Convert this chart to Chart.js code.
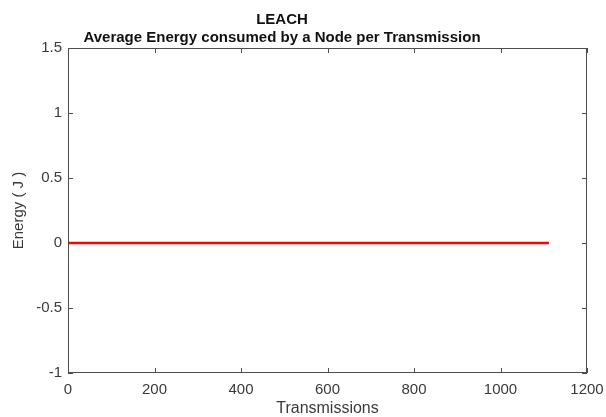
<!DOCTYPE html>
<html>
<head>
<meta charset="utf-8">
<script src="https://cdn.jsdelivr.net/npm/chart.js@4.4.1/dist/chart.umd.min.js"></script>
<style>
  html, body { margin: 0; padding: 0; background: #fff; }
  #wrap { width: 606px; height: 417px; }
</style>
</head>
<body>
<div id="wrap"><canvas id="energyChart" width="606" height="417"></canvas></div>
<script>
// values
const transmissions = [0, 200, 400, 600, 800, 1000, 1112];
const energy = [0, 0, 0, 0, 0, 0, 0];
const xTicks = [0, 200, 400, 600, 800, 1000, 1200];
const yTicks = [-1, -0.5, 0, 0.5, 1, 1.5];
const titleLines = ["LEACH", "Average Energy consumed by a Node per Transmission"];

const FONT = "'Liberation Sans', Arial, sans-serif";
const axisColor = "#4d4d4d";
const labelColor = "#3a3a3a";

const ctx = document.getElementById("energyChart").getContext("2d");

// box round the plot, ticks pointing inwards, and the two title lines
const matlabAxes = {
    id: 'matlabAxes',
    afterDraw: (chart) => {
        const { ctx, chartArea: a, scales } = chart;
        const tl = 5;
        ctx.save();
        ctx.strokeStyle = axisColor;
        ctx.lineWidth = 1;
        ctx.strokeRect(a.left + 0.5, a.top + 0.5, a.right - a.left - 1, a.bottom - a.top - 1);
        ctx.beginPath();
        xTicks.forEach(v => {
            const x = Math.round(scales.x.getPixelForValue(v)) + 0.5;
            ctx.moveTo(x, a.bottom); ctx.lineTo(x, a.bottom - tl);
            ctx.moveTo(x, a.top); ctx.lineTo(x, a.top + tl);
        });
        yTicks.forEach(v => {
            const y = Math.round(scales.y.getPixelForValue(v)) + 0.5;
            ctx.moveTo(a.left, y); ctx.lineTo(a.left + tl, y);
            ctx.moveTo(a.right, y); ctx.lineTo(a.right - tl, y);
        });
        ctx.stroke();

        ctx.fillStyle = "#111";
        ctx.font = "bold 15px " + FONT;
        ctx.textAlign = "center";
        ctx.textBaseline = "middle";
        ctx.fillText(titleLines[0], 282, 20);
        ctx.fillText(titleLines[1], 282, 38);
        ctx.restore();
    }
};

let energyChart = new Chart(ctx, {
    type: "scatter",
    data: {
        datasets: [{
            label: "Energy",
            data: transmissions.map((t, i) => ({ x: t, y: energy[i] })),
            showLine: true,
            borderColor: "#ff0000",
            borderWidth: 2.5,
            pointRadius: 0,
            fill: false
        }]
    },
    options: {
        responsive: false,
        animation: false,
        layout: { padding: { top: 48, right: 19, left: 0, bottom: 0 } },
        plugins: {
            legend: { display: false },
            tooltip: { enabled: false }
        },
        scales: {
            x: {
                type: "linear",
                min: 0,
                max: 1200,
                grid: { display: false, drawTicks: false },
                border: { display: false },
                afterBuildTicks: (scale) => { scale.ticks = xTicks.map(v => ({ value: v })); },
                afterFit: (scale) => {
                    scale.height = 44;
                    scale.paddingLeft = 0;
                    scale.paddingRight = 0;
                },
                ticks: {
                    padding: 8,
                    color: labelColor,
                    font: { family: FONT, size: 15 },
                    callback: (v) => String(v)
                },
                title: {
                    display: true,
                    text: "Transmissions",
                    color: labelColor,
                    font: { family: FONT, size: 16, lineHeight: 1 },
                    padding: { top: 0, bottom: 0 }
                }
            },
            y: {
                type: "linear",
                min: -1,
                max: 1.5,
                grid: { display: false, drawTicks: false },
                border: { display: false },
                afterBuildTicks: (scale) => { scale.ticks = yTicks.map(v => ({ value: v })); },
                afterFit: (scale) => {
                    scale.width = 68;
                    scale.paddingTop = 0;
                    scale.paddingBottom = 0;
                },
                ticks: {
                    padding: 6,
                    color: labelColor,
                    font: { family: FONT, size: 15 },
                    callback: (v) => String(v)
                },
                title: {
                    display: true,
                    text: "Energy ( J )",
                    color: labelColor,
                    font: { family: FONT, size: 15 },
                    padding: { top: 10, bottom: 0 }
                }
            }
        }
    },
    plugins: [matlabAxes]
});
</script>
</body>
</html>
